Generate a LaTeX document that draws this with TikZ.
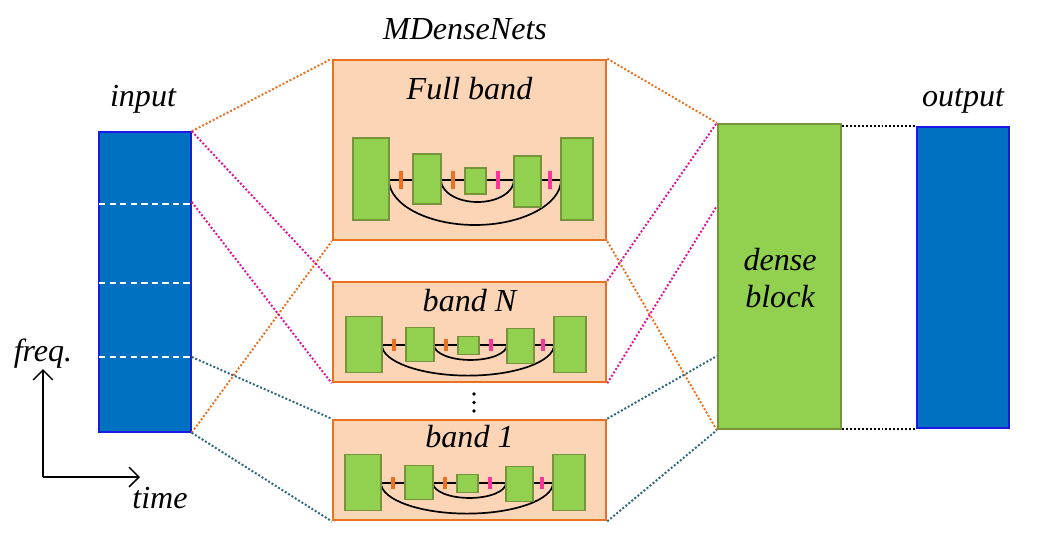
\documentclass[tikz,border=0pt]{standalone}
\usepackage{fontspec}
\setmainfont{Liberation Serif}
\usetikzlibrary{arrows.meta}

\definecolor{specblue}{HTML}{0070C0}
\definecolor{specedge}{HTML}{1A1AE6}
\definecolor{peach}{HTML}{FBD5B5}
\definecolor{boxorange}{HTML}{E97122}
\definecolor{leafgreen}{HTML}{92D050}
\definecolor{olive}{HTML}{77933C}
\definecolor{tickpink}{HTML}{FF3399}
\definecolor{linkpink}{HTML}{E0139C}
\definecolor{linkteal}{HTML}{2E6779}

% one small U-net: #1,#2 = left end of its middle line, #3 = yscale
\newcommand{\unet}[3]{%
\begin{scope}[shift={(#1,#2)},yscale=#3]
\draw [skip] (36,0) -- (208,0);
\draw [skip] (36,0) .. controls (36,24.3) and (74.5,45) .. (122,45)
  .. controls (169.5,45) and (208,24.3) .. (208,0);
\draw [skip] (88,0) .. controls (88,12.2) and (104.3,22) .. (124.5,22)
  .. controls (144.7,22) and (161,12.2) .. (161,0);
\filldraw [blk] (0,-42) rectangle (36,40);
\filldraw [blk] (60,-26) rectangle (88,24);
\filldraw [blk] (112,-12) rectangle (133,14);
\filldraw [blk] (161,-24) rectangle (188,27);
\filldraw [blk] (208,-42) rectangle (240,40);
\fill [boxorange] (46,-9) rectangle (50,9);
\fill [boxorange] (98,-9) rectangle (102,9);
\fill [tickpink] (143,-9) rectangle (147,9);
\fill [tickpink] (195,-9) rectangle (199,9);
\end{scope}}

\begin{document}
\begin{tikzpicture}[x=0.025cm,y=-0.025cm]
\tikzstyle{every node}+=[inner sep=0pt]
\tikzstyle{lbl}=[font=\itshape\fontsize{22.8}{26}\selectfont, anchor=base]
\tikzstyle{spec}=[draw=specedge, fill=specblue, line width=1pt, minimum width=2.3cm]
\tikzstyle{band}=[draw=boxorange, fill=peach, line width=1.8pt, minimum width=6.825cm]
\tikzstyle{blk}=[draw=olive, fill=leafgreen, line width=0.9pt]
\tikzstyle{skip}=[black, line width=1.2pt]
\tikzstyle{link}=[line width=1.4pt, dash pattern=on 1.4pt off 1.4pt]
\useasboundingbox (0,0) rectangle (1046,547);

% spectrograms and blocks
\node [spec, minimum height=7.5cm] (input) at (145,282) {};
\node [spec, minimum height=7.525cm] (output) at (963,277.5) {};
\node [draw=olive, fill=leafgreen, line width=1.6pt, minimum width=3.075cm, minimum height=7.625cm] (dense) at (779.5,276.5) {};
\node [band, minimum height=4.5cm] (full) at (469.5,150) {};
\node [band, minimum height=2.5cm] (bandN) at (469.5,332) {};
\node [band, minimum height=2.5cm] (band1) at (469.5,470) {};

% sub-band borders
\draw [white, line width=1.3pt, dash pattern=on 4.5pt off 3pt] (99,204) -- (191,204);
\draw [white, line width=1.3pt, dash pattern=on 4.5pt off 3pt] (99,283) -- (191,283);
\draw [white, line width=1.3pt, dash pattern=on 4.5pt off 3pt] (99,357) -- (191,357);

\unet{353}{180}{1}
\unet{346}{345}{0.68}
\unet{345}{483}{0.68}

% labels
\node [lbl] (title) at (465,39) {MDenseNets};
\node [lbl] (inlbl) at (143,106) {input};
\node [lbl] (outlbl) at (963,106) {output};
\node [lbl] (fulllbl) at (469.5,99) {Full band};
\node [lbl] (nlbl) at (469.5,311) {band N};
\node [lbl] (onelbl) at (469.5,447) {band 1};
\node [lbl] (denselbl) at (780,270) {dense};
\node [lbl] (blocklbl) at (780,307) {block};
\node [lbl] (freqlbl) at (43,361) {freq.};
\node [lbl] (timelbl) at (160,508) {time};

% dots between the bands
\fill (474,394) circle (1.8);
\fill (474,402.5) circle (1.8);
\fill (474,411) circle (1.8);

% axes
\coordinate (orig) at (43,477);
\coordinate (fup) at (43,369);
\coordinate (tright) at (140,477);
\draw [line width=1.1pt, -{Straight Barb[length=7pt,width=14pt]}] (orig) -- (fup);
\draw [line width=1.1pt, -{Straight Barb[length=7pt,width=14pt]}] (orig) -- (tright);

% connectors
\coordinate (cut1) at (input.east |- 0,202);
\coordinate (cut3) at (input.east |- 0,357);
\coordinate (dN) at (dense.west |- 0,206);
\coordinate (d1) at (dense.west |- 0,356);
\draw [link, boxorange] (input.north east) -- (full.north west);
\draw [link, boxorange] (input.south east) -- (full.south west);
\draw [link, boxorange] (full.north east) -- (dense.north west);
\draw [link, boxorange] (full.south east) -- (dense.south west);
\draw [link, linkpink] (input.north east) -- (bandN.north west);
\draw [link, linkpink] (cut1) -- (bandN.south west);
\draw [link, linkpink] (bandN.north east) -- (dense.north west);
\draw [link, linkpink] (bandN.south east) -- (dN);
\draw [link, linkteal] (cut3) -- (band1.north west);
\draw [link, linkteal] (input.south east) -- (band1.south west);
\draw [link, linkteal] (band1.north east) -- (d1);
\draw [link, linkteal] (band1.south east) -- (dense.south west);
\draw [link, black] (dense.east |- output.north) -- (output.north west);
\draw [link, black] (dense.east |- output.south) -- (output.south west);
\end{tikzpicture}
\end{document}
